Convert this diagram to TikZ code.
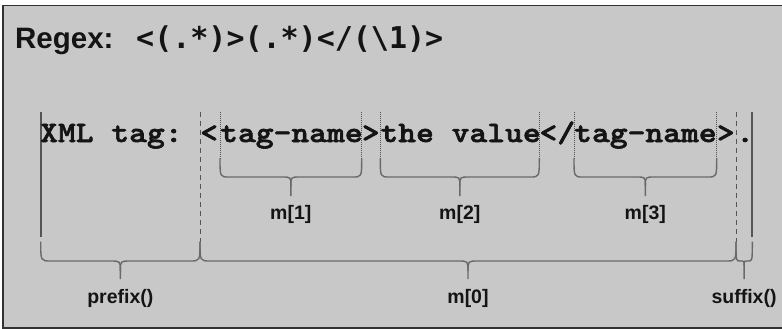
\documentclass[tikz,border=0pt]{standalone}
\usepackage{fontspec}
\setmainfont{Liberation Sans}
\newfontfamily\xmlfont{lmmonolt10-bold.otf}[FakeStretch=1.143,FakeBold=2]
\newfontfamily\refont{DejaVu Sans Mono}
\definecolor{bgfill}{RGB}{200,200,200}
\definecolor{framec}{RGB}{50,50,50}
\definecolor{linec}{RGB}{85,85,85}
\definecolor{bracec}{RGB}{105,105,105}
\definecolor{txtc}{RGB}{20,20,20}
\newcommand{\xmlsp}{\hspace*{17.8pt}}
\newcommand{\mybrace}[6]{% x1 x2 ytop yh ytip r
  \draw[bracestyle] (#1,#3) .. controls (#1,#4) .. ({#1+#6},#4) -- ({(#1+#2)/2-#6},#4)
     .. controls ({(#1+#2)/2},#4) .. ({(#1+#2)/2},{#4+#6}) -- ({(#1+#2)/2},#5);
  \draw[bracestyle] (#2,#3) .. controls (#2,#4) .. ({#2-#6},#4) -- ({(#1+#2)/2+#6},#4)
     .. controls ({(#1+#2)/2},#4) .. ({(#1+#2)/2},{#4+#6});
}
\tikzset{
  bracestyle/.style={draw=bracec, line width=1.4pt},
  solidv/.style={draw=linec, line width=2pt},
  dashv/.style={draw=linec, line width=1pt, dash pattern=on 5pt off 4pt},
  dotv/.style={draw=linec, line width=0.6pt, dash pattern=on 1pt off 1pt},
  lbl/.style={inner sep=0pt, text=txtc, font=\fontsize{19.5}{20}\selectfont\bfseries},
  head/.style={inner sep=0pt, text=txtc, font=\fontsize{29.5}{30}\selectfont\bfseries},
  retext/.style={inner sep=0pt, text=txtc, font=\refont\fontsize{30}{32}\selectfont\bfseries},
  xmltext/.style={inner sep=0pt, anchor=base west, text=txtc, font=\xmlfont\fontsize{29.67}{32}\selectfont},
}
\begin{document}
\begin{tikzpicture}[x=1pt,y=-1pt]
\useasboundingbox (0,0) rectangle (782,329);
\fill[white] (0,0) rectangle (782,329);
\begin{scope}
  \clip (0,0) rectangle (782,329);
  \draw[fill=bgfill, draw=framec, line width=1.6pt] (2.7,5.7) rectangle (790,327.7);
\end{scope}

% headline
\node[head, anchor=base west] (rx) at (15,49) {Regex:};
\node[retext, anchor=base west] (re) at (136,49) {<(.*)>(.*)</(\textbackslash 1)>};

% guide lines
\draw[solidv] (40.7,111.7) -- (40.7,236.7);
\draw[solidv] (752.3,111.7) -- (752.3,236.7);
\draw[dashv] (200,111.7) -- (200,241.7);
\draw[dashv] (736,111.7) -- (736,241.7);
\foreach \xx in {220,361.7,380.3,539.3,574,716.7}
  \draw[dotv] (\xx,111.7) -- (\xx,158);

% XML text, one segment per guide-line interval
\node[xmltext] (xa) at (40,142) {XML\xmlsp tag:};
\node[xmltext] (xb) at (200,142) {<};
\node[xmltext] (xc) at (220,142) {tag-name};
\node[xmltext] (xd) at (361.7,142) {>};
\node[xmltext] (xe) at (380.3,142) {the\xmlsp value};
\node[xmltext] (xf) at (539.3,142) {</};
\node[xmltext] (xg) at (574,142) {tag-name};
\node[xmltext] (xh) at (716.7,142) {>};
\node[xmltext] (xi) at (736,142) {.};

% small braces
\mybrace{220}{361.7}{158}{177}{196}{9}
\mybrace{380.3}{539.3}{158}{177}{196}{9}
\mybrace{574}{716.7}{158}{177}{196}{9}
% large braces
\mybrace{40.7}{200}{241.7}{261}{279}{10}
\mybrace{200}{736}{241.7}{261}{279}{10}
\mybrace{736}{752.3}{241.7}{261}{279}{4}

% labels
\node[lbl] (m1) at (290.8,214.5) {m[1]};
\node[lbl] (m2) at (459.8,214.5) {m[2]};
\node[lbl] (m3) at (645.3,214.5) {m[3]};
\node[lbl] (pre) at (120.3,298.5) {prefix()};
\node[lbl] (m0) at (468,298.5) {m[0]};
\node[lbl] (suf) at (744,298.5) {suffix()};
\end{tikzpicture}
\end{document}
